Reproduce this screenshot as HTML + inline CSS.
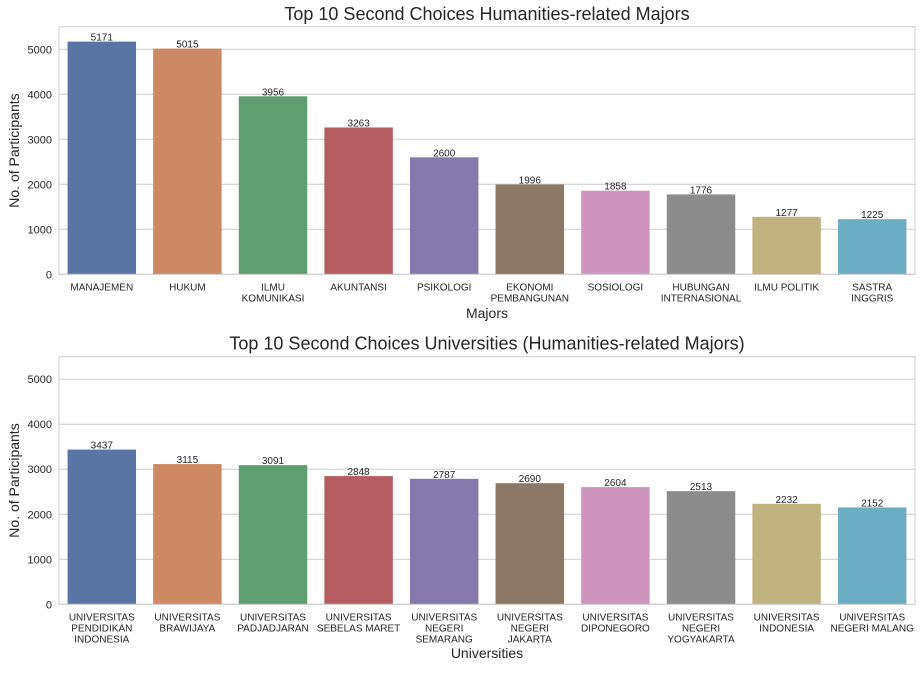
<!DOCTYPE html>
<html><head><meta charset="utf-8"><style>
body{margin:0;background:#fff;font-family:"Liberation Sans",Arial,sans-serif}
svg text{font-family:"Liberation Sans",Arial,sans-serif;fill:#262626}
</style></head><body>
<svg id="c" width="921" height="668" xmlns="http://www.w3.org/2000/svg"></svg>
<script>
const majors = ["MANAJEMEN","HUKUM","ILMU\nKOMUNIKASI","AKUNTANSI","PSIKOLOGI","EKONOMI\nPEMBANGUNAN","SOSIOLOGI","HUBUNGAN\nINTERNASIONAL","ILMU POLITIK","SASTRA\nINGGRIS"];
const majorValues = [5171,5015,3956,3263,2600,1996,1858,1776,1277,1225];
const universities = ["UNIVERSITAS\nPENDIDIKAN\nINDONESIA","UNIVERSITAS\nBRAWIJAYA","UNIVERSITAS\nPADJADJARAN","UNIVERSITAS\nSEBELAS MARET","UNIVERSITAS\nNEGERI\nSEMARANG","UNIVERSITAS\nNEGERI\nJAKARTA","UNIVERSITAS\nDIPONEGORO","UNIVERSITAS\nNEGERI\nYOGYAKARTA","UNIVERSITAS\nINDONESIA","UNIVERSITAS\nNEGERI MALANG"];
const universityValues = [3437,3115,3091,2848,2787,2690,2604,2513,2232,2152];
const yTicks = [0,1000,2000,3000,4000,5000];
const colors = ["#5975a4","#cc8963","#5f9e6e","#b55d60","#857aab","#8d7866","#d095bf","#8c8c8c","#c1b37f","#6cadc4"];
const svg = document.getElementById('c');
const NS = "http://www.w3.org/2000/svg";
function mk(tag, attrs, parent){const e=document.createElementNS(NS,tag);for(const k in attrs)e.setAttribute(k,attrs[k]);(parent||svg).appendChild(e);return e;}
function panel(cfg){
  const L=59,R=915,T=cfg.top,B=cfg.bottom,ymax=5500;
  const y=v=>B-(v/ymax)*(B-T);
  const band=(R-L)/cfg.cats.length;
  const x=i=>L+band*i;
  const g=mk('g',{});
  
  
  yTicks.forEach(t=>{
    const ln=mk('line',{x1:L,x2:R,y1:y(t),y2:y(t),stroke:'#cccccc','stroke-width':1},g);
    
    
    const tx=mk('text',{x:L-7,y:y(t)+4,'text-anchor':'end','font-size':11},g);
    tx.textContent=t;
    
    
  });
  cfg.vals.forEach((v,i)=>{
    const r=mk('rect',{x:x(i)+band*0.1,y:y(v),width:band*0.8,height:B-y(v),fill:colors[i]},g);
    
    
    const vt=mk('text',{x:x(i)+band/2,y:y(v)-1,'text-anchor':'middle','font-size':10},g);
    vt.textContent=v;
    
    
    cfg.cats[i].split('\n').forEach((line,j)=>{
      const ct=mk('text',{x:x(i)+band/2,y:B+16+j*11,'text-anchor':'middle','font-size':10},g);
      ct.textContent=line;
      
      
    });
  });
  const fr=mk('rect',{x:L,y:T,width:R-L,height:B-T,fill:'none',stroke:'#cccccc','stroke-width':1},g);
  
  
  const ti=mk('text',{x:(L+R)/2,y:T-7,'text-anchor':'middle','font-size':18},g);
  ti.textContent=cfg.title;
  
  
  const xl=mk('text',{x:(L+R)/2,y:cfg.xlY,'text-anchor':'middle','font-size':14},g);
  xl.textContent=cfg.xlabel;
  
  
  const yl=mk('text',{x:0,y:0,'text-anchor':'middle','font-size':14,transform:`translate(19,${(T+B)/2}) rotate(-90)`},g);
  yl.textContent='No. of Participants';
  
  
}
panel({name:'majors-chart',top:26.8,bottom:274.3,cats:majors,vals:majorValues,title:'Top 10 Second Choices Humanities-related Majors',xlabel:'Majors',xlY:318});
panel({name:'universities-chart',top:356.7,bottom:604.3,cats:universities,vals:universityValues,title:'Top 10 Second Choices Universities (Humanities-related Majors)',xlabel:'Universities',xlY:658});
</script>
</body></html>
